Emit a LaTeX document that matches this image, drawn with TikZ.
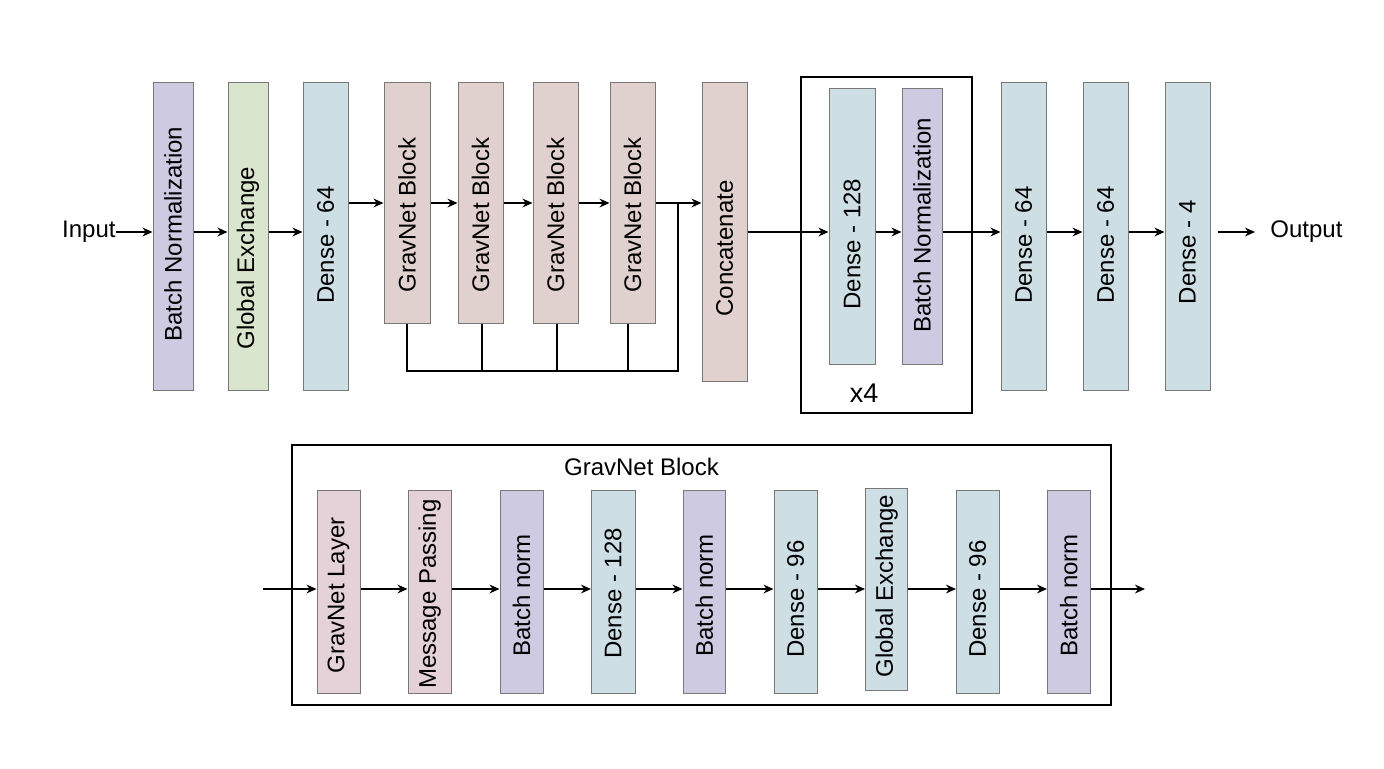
\documentclass[tikz,border=0pt]{standalone}
\usepackage{fontspec}
\setmainfont{Liberation Sans}
\usetikzlibrary{arrows.meta,fit}
\definecolor{cPurple}{RGB}{205,202,225}
\definecolor{cGreen}{RGB}{218,229,206}
\definecolor{cBlue}{RGB}{206,222,229}
\definecolor{cRose}{RGB}{225,209,206}
\definecolor{cPink}{RGB}{229,209,216}
\definecolor{cBorder}{RGB}{120,120,120}
\begin{document}
\begin{tikzpicture}[x=0.5pt,y=-0.5pt,
  font=\fontsize{12}{14}\selectfont,
  blk/.style={draw=cBorder, line width=0.5pt, inner sep=0pt},
  lbl/.style={rotate=90, inner sep=0pt},
  arr/.style={-{Stealth[length=5pt,width=4.4pt]}, line width=1pt},
  wire/.style={line width=1pt},
  frame/.style={draw=black, line width=1pt, inner sep=0pt}]
\useasboundingbox (0,0) rectangle (1384,768);

% ---------- top row ----------
\coordinate (yA) at (0,232);
\coordinate (yB) at (0,203);

\node[blk, fill=cPurple, fit={(153,82)(193,390)}] (bn1) {};
\node[lbl] (bn1t) at (173,234) {Batch Normalization};
\node[blk, fill=cGreen, fit={(228,82)(268,390)}] (ge1) {};
\node[lbl] (ge1t) at (248,258) {Global Exchange};
\node[blk, fill=cBlue, fit={(303,82)(348,390)}] (d1) {};
\node[lbl] (d1t) at (325.5,245) {Dense - 64};

\node[blk, fill=cRose, fit={(384,82)(430,323)}] (gb1) {};
\node[lbl] (gb1t) at (407,215) {GravNet Block};
\node[blk, fill=cRose, fit={(458,82)(503,323)}] (gb2) {};
\node[lbl] (gb2t) at (480.5,215) {GravNet Block};
\node[blk, fill=cRose, fit={(533,82)(578,323)}] (gb3) {};
\node[lbl] (gb3t) at (555.5,215) {GravNet Block};
\node[blk, fill=cRose, fit={(610,82)(655,323)}] (gb4) {};
\node[lbl] (gb4t) at (632.5,215) {GravNet Block};

\node[blk, fill=cRose, fit={(702,82)(747,381)}] (cc) {};
\node[lbl] (cct) at (724.5,248.5) {Concatenate};

\node[frame, fit={(801,77)(972,413)}] (rep) {};
\node[blk, fill=cBlue, fit={(829,88)(875,364)}] (d128) {};
\node[lbl] (d128t) at (852,244) {Dense - 128};
\node[blk, fill=cPurple, fit={(902,88)(942,364)}] (bn2) {};
\node[lbl] (bn2t) at (922,225) {Batch Normalization};
\node[inner sep=0pt, font=\fontsize{13.5}{16}\selectfont] (x4) at (864,393) {x4};

\node[blk, fill=cBlue, fit={(1001,82)(1046,390)}] (d2) {};
\node[lbl] (d2t) at (1023.5,245) {Dense - 64};
\node[blk, fill=cBlue, fit={(1083,82)(1128,390)}] (d3) {};
\node[lbl] (d3t) at (1105.5,245) {Dense - 64};
\node[blk, fill=cBlue, fit={(1165,82)(1210,390)}] (d4) {};
\node[lbl] (d4t) at (1187.5,252) {Dense - 4};

\node[anchor=east, inner sep=0pt] (inp) at (116,232) {Input};
\node[anchor=west, inner sep=0pt] (outp) at (1270,232) {Output};

\draw[arr] (inp.east) -- (bn1.west |- inp.east);
\draw[arr] (bn1.east |- yA) -- (ge1.west |- yA);
\draw[arr] (ge1.east |- yA) -- (d1.west |- yA);
\draw[arr] (d1.east |- yB) -- (gb1.west |- yB);
\draw[arr] (gb1.east |- yB) -- (gb2.west |- yB);
\draw[arr] (gb2.east |- yB) -- (gb3.west |- yB);
\draw[arr] (gb3.east |- yB) -- (gb4.west |- yB);
\draw[arr] (gb4.east |- yB) -- (cc.west |- yB);

\coordinate (jn) at (678,203);
\coordinate (busR) at (678,371);
\draw[wire] (gb1.south) |- (busR) -- (jn);
\draw[wire] ([xshift=0.75pt]gb2.south) -- ([xshift=0.75pt]gb2.south |- busR);
\draw[wire] ([xshift=0.75pt]gb3.south) -- ([xshift=0.75pt]gb3.south |- busR);
\draw[wire] ([xshift=-2.25pt]gb4.south) -- ([xshift=-2.25pt]gb4.south |- busR);

\draw[arr] (cc.east |- yA) -- (d128.west |- yA);
\draw[arr] (d128.east |- yA) -- (bn2.west |- yA);
\draw[arr] (bn2.east |- yA) -- (d2.west |- yA);
\draw[arr] (d2.east |- yA) -- (d3.west |- yA);
\draw[arr] (d3.east |- yA) -- (d4.west |- yA);
\draw[arr] ([xshift=3.5pt]d4.east |- yA) -- ([xshift=-7.5pt]outp.west);

% ---------- GravNet block detail ----------
\coordinate (yC) at (0,589);
\node[frame, fit={(292,445)(1111,705)}] (gbox) {};
\node[inner sep=0pt] (gbtitle) at (641.5,467) {GravNet Block};

\node[blk, fill=cPink, fit={(317,490)(360,693)}] (gl) {};
\node[lbl] (glt) at (338.5,595.5) {GravNet Layer};
\node[blk, fill=cPink, fit={(408,490)(451.5,693)}] (mp) {};
\node[lbl] (mpt) at (429.7,594) {Message Passing};
\node[blk, fill=cPurple, fit={(500,490)(543,693)}] (b1) {};
\node[lbl] (b1t) at (521.5,595.5) {Batch norm};
\node[blk, fill=cBlue, fit={(591.5,490)(635,693)}] (e1) {};
\node[lbl] (e1t) at (613.2,593.5) {Dense - 128};
\node[blk, fill=cPurple, fit={(683,490)(725.5,693)}] (b2) {};
\node[lbl] (b2t) at (704.2,595.5) {Batch norm};
\node[blk, fill=cBlue, fit={(774,490)(817,693)}] (e2) {};
\node[lbl] (e2t) at (795.5,599) {Dense - 96};
\node[blk, fill=cBlue, fit={(865.5,488)(907.7,690)}] (g2) {};
\node[lbl] (g2t) at (886.6,586) {Global Exchange};
\node[blk, fill=cBlue, fit={(956.5,490)(999,693)}] (e3) {};
\node[lbl] (e3t) at (977.7,599) {Dense - 96};
\node[blk, fill=cPurple, fit={(1047.5,490)(1090,693)}] (b3) {};
\node[lbl] (b3t) at (1068.7,595.5) {Batch norm};

\coordinate (bin) at (263,589);
\coordinate (bout) at (1145,589);
\draw[arr] (bin) -- (gl.west |- yC);
\draw[arr] (gl.east |- yC) -- (mp.west |- yC);
\draw[arr] (mp.east |- yC) -- (b1.west |- yC);
\draw[arr] (b1.east |- yC) -- (e1.west |- yC);
\draw[arr] (e1.east |- yC) -- (b2.west |- yC);
\draw[arr] (b2.east |- yC) -- (e2.west |- yC);
\draw[arr] (e2.east |- yC) -- (g2.west |- yC);
\draw[arr] (g2.east |- yC) -- (e3.west |- yC);
\draw[arr] (e3.east |- yC) -- (b3.west |- yC);
\draw[arr] (b3.east |- yC) -- (bout);
\end{tikzpicture}
\end{document}
